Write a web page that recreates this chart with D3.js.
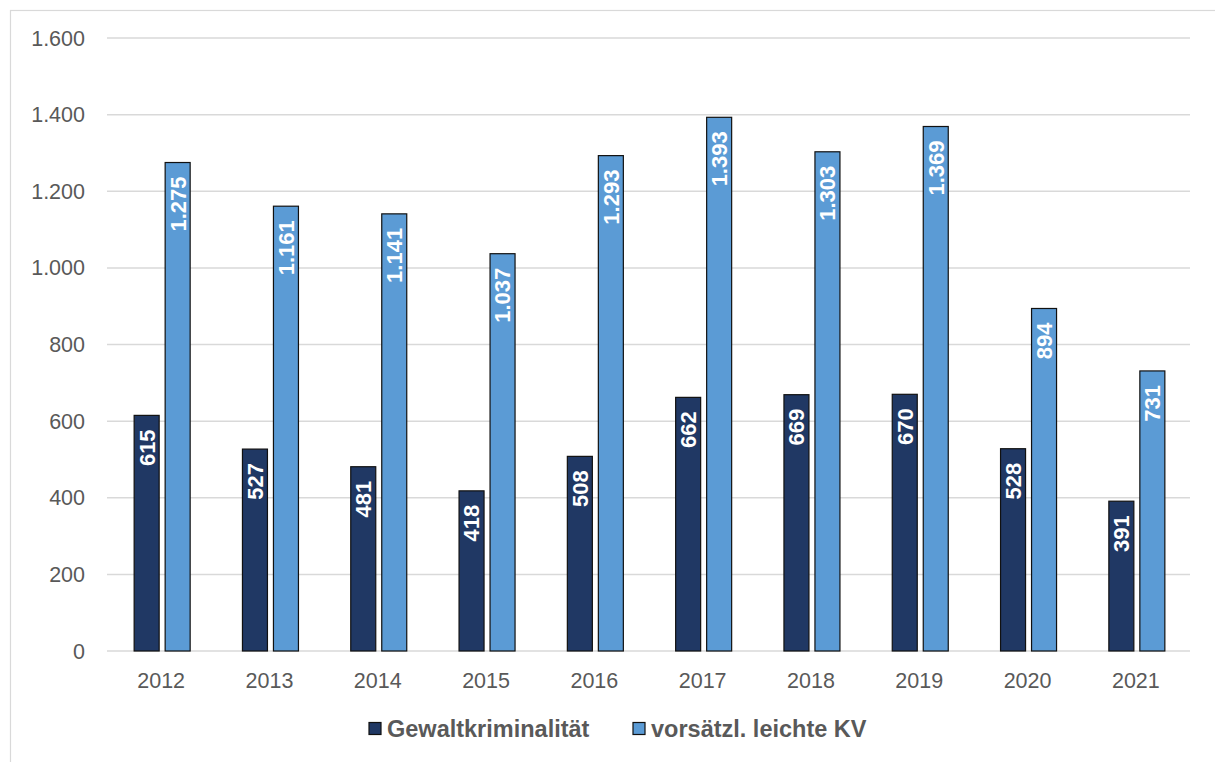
<!DOCTYPE html>
<meta charset='utf-8'>
<style>
body { margin: 0; background: #fff; }
svg text { font-family: 'Liberation Sans', Arial, sans-serif; }
.axis text { font-size: 21.5px; fill: #595959; }
.grid line { stroke: #d9d9d9; stroke-width: 1.5; }
.lbl { font-size: 22px; font-weight: bold; fill: #fff; }
.legend text { font-size: 23.5px; font-weight: bold; fill: #595959; }
</style>
<script src='https://d3js.org/d3.v7.min.js'></script>
<body>
<script>
'use strict'

// Data
let years = ['2012', '2013', '2014', '2015', '2016', '2017', '2018', '2019', '2020', '2021'],
	gewalt = [615, 527, 481, 418, 508, 662, 669, 670, 528, 391],
	leichte_kv = [1275, 1161, 1141, 1037, 1293, 1393, 1303, 1369, 894, 731],
	series_names = ['Gewaltkriminalität', 'vorsätzl. leichte KV'],
	y_ticks = [0, 200, 400, 600, 800, 1000, 1200, 1400, 1600]

let colors = ['#203864', '#5b9bd5'],
	fmt = d3.formatLocale({decimal: ',', thousands: '.', grouping: [3], currency: ['', '€']}).format(',d')

let W = 1215, H = 762,
	plot = {left: 107, right: 1190, top: 38, bottom: 651}

let svg = d3.select('body').append('svg').attr('width', W).attr('height', H)

// outer chart frame
svg.append('rect').attr('x', 10.5).attr('y', 10.5).attr('width', W + 20).attr('height', H + 20)
	.attr('fill', 'none').attr('stroke', '#d9d9d9').attr('stroke-width', 1.2)

let x = d3.scaleBand(years, [plot.left, plot.right]),
	y = d3.scaleLinear([0, 1600], [plot.bottom, plot.top]),
	cx = d => x(d) + x.bandwidth() / 2

// gridlines
svg.append('g').attr('class', 'grid').selectAll('line')
	.data(y_ticks).join('line')
		.attr('x1', plot.left).attr('x2', plot.right)
		.attr('y1', d => y(d)).attr('y2', d => y(d))

// y axis labels
svg.append('g').attr('class', 'axis').selectAll('text')
	.data(y_ticks).join('text')
		.attr('x', 85).attr('y', d => y(d)).attr('dy', '.35em')
		.attr('text-anchor', 'end').text(d => fmt(d))

// x axis labels
svg.append('g').attr('class', 'axis').selectAll('text')
	.data(years).join('text')
		.attr('x', d => cx(d)).attr('y', 688)
		.attr('text-anchor', 'middle').text(d => d)

// bars
let bar_w = 25,
	offsets = [-27, 4],
	series = [gewalt, leichte_kv]
series.forEach((vals, si) => {
	let off = offsets[si],
		g = svg.append('g'),
		rows = years.map((yr, i) => ({yr, v: vals[i]}))
	g.selectAll('rect').data(rows).join('rect')
		.attr('x', d => cx(d.yr) + off)
		.attr('y', d => y(d.v))
		.attr('width', bar_w)
		.attr('height', d => y(0) - y(d.v))
		.attr('fill', colors[si]).attr('stroke', '#111').attr('stroke-width', 1.2)
	g.selectAll('text').data(rows).join('text')
		.attr('class', 'lbl')
		.attr('transform', d => `translate(${cx(d.yr) + off + bar_w / 2},${y(d.v) + 14}) rotate(-90)`)
		.attr('text-anchor', 'end').attr('dy', '.36em')
		.text(d => fmt(d.v))
})

// legend
let leg = svg.append('g').attr('class', 'legend'),
	leg_x = [369, 633]
series_names.forEach((name, i) => {
	leg.append('rect').attr('x', leg_x[i]).attr('y', 722.5).attr('width', 12).attr('height', 12)
		.attr('fill', colors[i]).attr('stroke', '#111').attr('stroke-width', 1.2)
	leg.append('text').attr('x', leg_x[i] + 18).attr('y', 729).attr('dy', '.36em').text(name)
})
</script>
